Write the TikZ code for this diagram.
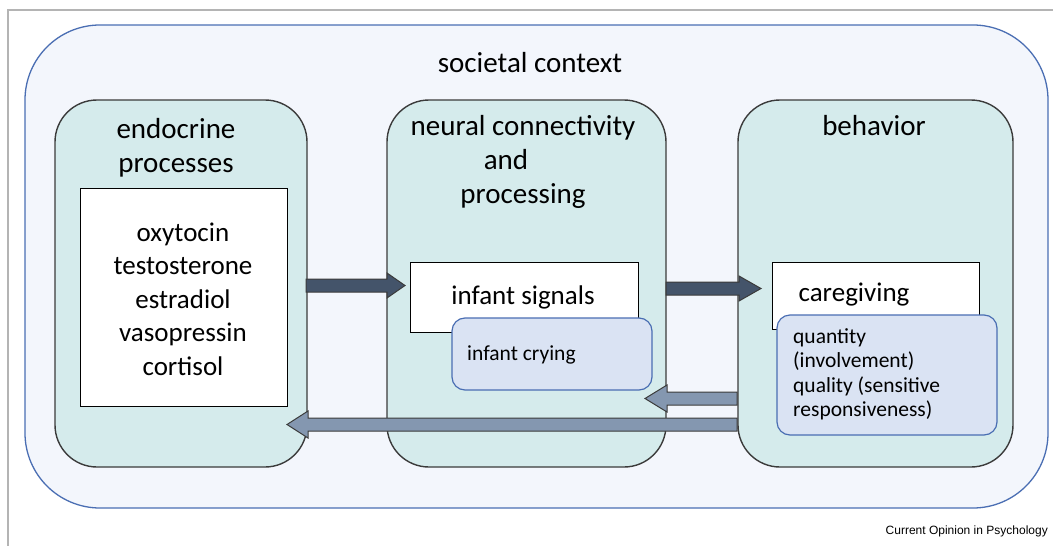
\documentclass[tikz,border=0pt]{standalone}
\usepackage{fontspec}
\setmainfont{Carlito}
\newfontfamily\footfont{Liberation Sans}
\definecolor{socfill}{HTML}{F3F6FC}
\definecolor{socline}{HTML}{4A6EB3}
\definecolor{panfill}{HTML}{D5EBEC}
\definecolor{panline}{HTML}{3B3B3B}
\definecolor{bluefill}{HTML}{DAE3F3}
\definecolor{darkarr}{HTML}{44546A}
\definecolor{lightarr}{HTML}{8497B0}
\definecolor{framegray}{HTML}{B4B4B4}
\tikzset{
  panel/.style={draw=panline, fill=panfill, line width=1.4pt, rounded corners=42pt},
  whitebox/.style={draw=black, fill=white, line width=1pt},
  bluebox/.style={draw=socline, fill=bluefill, line width=1.2pt, rounded corners=13pt},
  darkarrow/.style={draw=panline, fill=darkarr, line width=1pt},
  lightarrow/.style={draw=panline, fill=lightarr, line width=1pt},
  head/.style={font=\fontsize{29}{34}\selectfont, align=center, inner sep=0pt},
  body/.style={font=\fontsize{27}{34}\selectfont, align=center, inner sep=0pt},
  small/.style={font=\fontsize{21.5}{24.5}\selectfont, align=left, inner sep=0pt}
}
\begin{document}
\begin{tikzpicture}[x=1pt,y=-1pt]
\useasboundingbox (0,0) rectangle (1053,546);
% frame
\draw[framegray, line width=1.2pt] (8,546) -- (8,10) -- (1053,10);
% societal context
\draw[draw=socline, fill=socfill, line width=1.3pt, rounded corners=75pt] (25,25) rectangle (1048,508);
\node[head] (soc) at (530,63) {societal context};
% panels
\draw[panel] (55,100) rectangle (307,467);
\draw[panel] (387,100) rectangle (666,467);
\draw[panel] (738,100) rectangle (1013,467);
\node[head] (endo) at (176,148) {endocrine\\processes};
\node[head] (neur) at (523,162) {neural connectivity\\\hspace*{-34pt}and\\processing};
\node[head] (behav) at (874,126) {behavior};
% white boxes
\draw[whitebox] (80,188) rectangle (287,406);
\node[body, font=\fontsize{27}{33.5}\selectfont] (horm) at (183,299) {oxytocin\\testosterone\\estradiol\\vasopressin\\cortisol};
\draw[whitebox] (410,262) rectangle (638,332);
\node[body] (sig) at (523,297) {infant signals};
\draw[whitebox] (772,262) rectangle (979,329);
\node[body] (care) at (854,295) {caregiving};
% arrows
\draw[darkarrow] (306,279) -- (387,279) -- (387,273) -- (405,285.5) -- (387,298) -- (387,292) -- (306,292) -- cycle;
\draw[darkarrow] (666,282) -- (739,282) -- (739,276) -- (761,288.5) -- (739,301) -- (739,295) -- (666,295) -- cycle;
\draw[lightarrow] (737,392) -- (667,392) -- (667,385) -- (645,398.5) -- (667,412) -- (667,405) -- (737,405) -- cycle;
\draw[lightarrow] (737,418) -- (308,418) -- (308,411) -- (287,424.5) -- (308,438) -- (308,431) -- (737,431) -- cycle;
% blue boxes
\draw[bluebox] (452,318) rectangle (652,390);
\node[small, anchor=west] (cry) at (467,355) {infant crying};
\draw[bluebox] (777,315) rectangle (997,435);
\node[small, anchor=north west] (qual) at (793,328) {quantity\\(involvement)\\quality (sensitive\\responsiveness)};
% footer
\node[font=\footfont\fontsize{12}{14}\selectfont, anchor=east, inner sep=0pt] (foot) at (1048,531) {Current Opinion in Psychology};
\end{tikzpicture}
\end{document}
